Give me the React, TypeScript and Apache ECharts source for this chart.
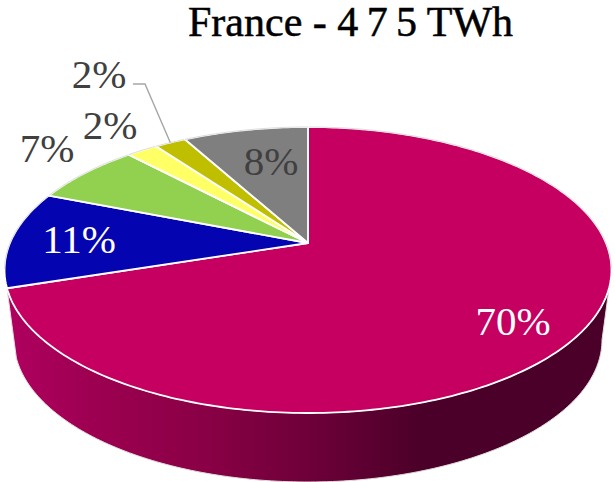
import React, { useEffect, useRef } from "react";
import * as echarts from "echarts";

const WIDTH = 615;
const HEIGHT = 482;

// The figure in the heading is set with open spacing, hence the thin spaces.
const titleText = "France - 4\u20097\u20095 TWh";
const shares = [70, 11, 7, 2, 2, 8];
const labels = ["70%", "11%", "7%", "2%", "2%", "8%"];
const colours = ["#c60060", "#0404b0", "#92d050", "#ffff66", "#bfbf00", "#7f7f7f"];
const labelColours = ["#ffffff", "#ffffff", "#404040", "#404040", "#404040", "#404040"];

// Centres of the data labels, kept apart from the values.
const labelCentres = [
  [513, 321],
  [79, 239],
  [47, 148],
  [110, 125],
  [99, 74],
  [271, 161],
];
const LEADER_INDEX = 4;
const LEADER_ELBOW = [[133, 84], [145, 84]];

// Perspective of the tilted disc: the hub sits above the centre of the rim ellipse.
const HUB_X = 308;
const HUB_Y = 243;
const SPREAD_X = 298;
const SPREAD_Y = 137.9;
const TILT = 0.1888;
const RIM_CY = 270;
const RIM_RX = 303.5;
const RIM_RY = 143;
const BASE_CX = 308;
const BASE_CY = 340;
const BASE_RX = 294;
const BASE_RY = 142;

const total = shares.reduce((a, b) => a + b, 0);
const startShare = shares.map((_, i) => shares.slice(0, i).reduce((a, b) => a + b, 0));

const toAngle = (share: number) => (share / total) * Math.PI * 2;

function rimPoint(angle: number): number[] {
  const u = Math.sin(angle);
  const v = -Math.cos(angle);
  const w = 1 - TILT * v;
  return [HUB_X + (SPREAD_X * u) / w, HUB_Y + (SPREAD_Y * v) / w];
}

function rimArc(from: number, to: number): number[][] {
  const steps = Math.max(4, Math.ceil((to - from) * 60));
  const pts: number[][] = [];
  for (let i = 0; i <= steps; i++) pts.push(rimPoint(from + ((to - from) * i) / steps));
  return pts;
}

function wallPolygon(endAngle: number): number[][] {
  const end = rimPoint(endAngle);
  const endPhi = Math.atan2((end[1] - RIM_CY) / RIM_RY, (end[0] - HUB_X) / RIM_RX);
  const upper: number[][] = [];
  const lower: number[][] = [];
  for (let i = 0; i <= 160; i++) {
    const phi = (endPhi * i) / 160;
    upper.push([HUB_X + RIM_RX * Math.cos(phi), RIM_CY + RIM_RY * Math.sin(phi)]);
    lower.push([BASE_CX + BASE_RX * Math.cos(phi), BASE_CY + BASE_RY * Math.sin(phi)]);
  }
  return [...lower, ...upper.reverse()];
}

const wallFill = {
  type: "linear",
  x: 0,
  y: 0,
  x2: 1,
  y2: 0,
  colorStops: [
    { offset: 0, color: "#b00060" },
    { offset: 0.15, color: "#9c0050" },
    { offset: 0.32, color: "#8a0046" },
    { offset: 0.49, color: "#70003a" },
    { offset: 0.69, color: "#4a0028" },
    { offset: 1, color: "#4a0028" },
  ],
};

function renderSlice(params: any, api: any) {
  const i = params.dataIndex;
  const from = toAngle(startShare[i]);
  const to = from + toAngle(api.value(0));
  const arc = rimArc(from, to);
  const children: any[] = [];
  if (i === 0) {
    children.push({
      type: "polygon",
      shape: { points: wallPolygon(to) },
      style: { fill: wallFill, stroke: "#dedede", lineWidth: 1 },
    });
  }
  children.push({
    type: "polygon",
    shape: { points: [[HUB_X, HUB_Y], ...arc] },
    style: { fill: colours[i], stroke: "#ffffff", lineWidth: 1.8, lineJoin: "round" },
  });
  // The far half of the rim carries a faint grey edge against the page.
  const farEdge = arc.filter((p) => p[1] < RIM_CY);
  if (farEdge.length > 1) {
    children.push({
      type: "polyline",
      shape: { points: farEdge },
      style: { fill: "none", stroke: "#dcdcdc", lineWidth: 1 },
    });
  }
  return { type: "group", children };
}

function renderLabel(params: any, api: any) {
  const i = params.dataIndex;
  const children: any[] = [];
  if (i === LEADER_INDEX) {
    const mid = rimPoint(toAngle(startShare[i] + api.value(0) / 2));
    children.push({
      type: "polyline",
      shape: { points: [...LEADER_ELBOW, mid] },
      style: { fill: "none", stroke: "#a6a6a6", lineWidth: 1.4 },
    });
  }
  children.push({
    type: "text",
    style: {
      text: labels[i],
      x: labelCentres[i][0],
      y: labelCentres[i][1],
      align: "center",
      verticalAlign: "middle",
      fill: labelColours[i],
      font: '41px "Liberation Serif"',
    },
  });
  return { type: "group", children };
}

export default function App() {
  const ref = useRef<HTMLDivElement>(null);
  useEffect(() => {
    const chart = echarts.init(ref.current!, undefined, { renderer: "svg" });
    chart.setOption({
      animation: false,
      backgroundColor: "#ffffff",
      title: {
        text: titleText,
        left: 188,
        top: 1,
        padding: 0,
        textStyle: {
          fontFamily: "Liberation Serif",
          fontSize: 42,
          fontWeight: "normal",
          color: "#000000",
          textBorderColor: "#000000",
          textBorderWidth: 0.5,
        },
      },
      series: [
        {
          type: "custom",
          coordinateSystem: "none",
          data: shares.map((v) => [v]),
          renderItem: renderSlice,
          silent: true,
          z: 1,
        },
        {
          type: "custom",
          coordinateSystem: "none",
          data: shares.map((v) => [v]),
          renderItem: renderLabel,
          silent: true,
          z: 2,
        },
      ],
    });
    return () => chart.dispose();
  }, []);
  return (
    <div
      ref={ref}
      style={{ position: "absolute", left: 0, top: 0, width: WIDTH, height: HEIGHT }}
    />
  );
}
